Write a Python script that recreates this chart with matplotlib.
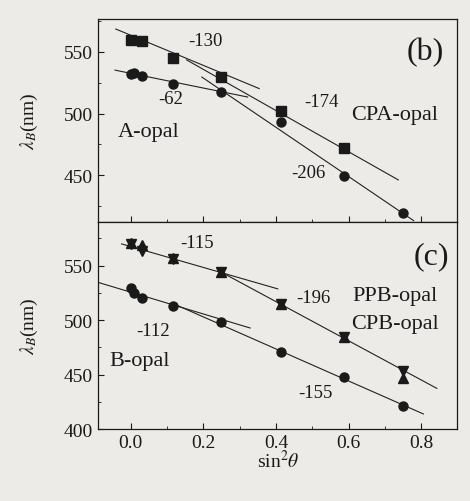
import matplotlib
matplotlib.use('Agg')
import numpy as np
from matplotlib import pyplot as plt
from matplotlib.ticker import MultipleLocator

plt.rcParams['font.family'] = ['Liberation Serif', 'DejaVu Serif']
plt.rcParams['mathtext.fontset'] = 'stix'

# sin^2(theta) values for the measured angles
x_sq = [0.0, 0.03, 0.117, 0.25, 0.413, 0.587]
y_cpa = [559.7, 559.1, 544.9, 529.6, 501.9, 471.8]

x_a = [0.0, 0.008, 0.03, 0.117, 0.25, 0.413, 0.587, 0.75]
y_a = [532.0, 533.0, 530.4, 523.9, 517.7, 493.3, 448.9, 419.1]

x_b = [0.0, 0.008, 0.03, 0.117, 0.25, 0.413, 0.587, 0.75]
y_b = [529.0, 524.5, 520.5, 512.6, 498.0, 470.4, 448.0, 421.4]

x_tri = [0.0, 0.03, 0.117, 0.25, 0.413, 0.587, 0.75]
y_ppb = [570.5, 569.0, 556.5, 544.0, 515.0, 484.0, 446.5]   # up triangles
y_cpb = [570.0, 563.5, 556.0, 544.5, 515.0, 484.5, 453.5]   # down triangles

# fitted lines: (slope, intercept, x start, x end)
fits_b = [(-122.3, 563.5, -0.041, 0.354),
          (-167.0, 569.2, 0.154, 0.737),
          (-59.7, 532.6, -0.043, 0.322),
          (-199.7, 568.7, 0.196, 0.779)]
fits_c = [(-96.0, 567.5, -0.025, 0.405),
          (-179.7, 588.8, 0.2415, 0.843),
          (-100.0, 525.6, -0.091, 0.329),
          (-147.0, 532.3, 0.113, 0.806)]

bg = '#ecebe8'
fig = plt.figure(figsize=(4.7, 5.02), dpi=100, facecolor=bg)
ax1 = fig.add_axes([0.2085, 0.5558, 0.7649, 0.4052], facecolor=bg)
ax2 = fig.add_axes([0.2085, 0.1434, 0.7649, 0.4124], facecolor=bg)

for ax, fits in ((ax1, fits_b), (ax2, fits_c)):
    for k, b, x0, x1 in fits:
        xs = np.array([x0, x1])
        ax.plot(xs, k * xs + b, color='#222222', lw=0.8)

ax1.plot(x_sq, y_cpa, 's', color='#1a1a1a', ms=6.5)
ax1.plot(x_a, y_a, 'o', color='#1a1a1a', ms=6.5)
ax2.plot(x_b, y_b, 'o', color='#1a1a1a', ms=6.5)
ax2.plot(x_tri, y_ppb, '^', color='#1a1a1a', ms=7)
ax2.plot(x_tri, y_cpb, 'v', color='#1a1a1a', ms=7)

txt = dict(ha='center', va='center', color='#1a1a1a')
ax1.text(0.205, 559.1, '-130', fontsize=13.5, **txt)
ax1.text(0.109, 512.1, '-62', fontsize=13.5, **txt)
ax1.text(0.525, 509.7, '-174', fontsize=13.5, **txt)
ax1.text(0.49, 452.4, '-206', fontsize=13.5, **txt)
ax1.text(0.728, 499.4, 'CPA-opal', fontsize=16, **txt)
ax1.text(0.049, 485.0, 'A-opal', fontsize=16, **txt)
ax1.text(0.811, 550.0, '(b)', fontsize=23, **txt)

ax2.text(0.182, 571.4, '-115', fontsize=13.5, **txt)
ax2.text(0.503, 520.9, '-196', fontsize=13.5, **txt)
ax2.text(0.0625, 490.3, '-112', fontsize=13.5, **txt)
ax2.text(0.508, 433.7, '-155', fontsize=13.5, **txt)
ax2.text(0.728, 522.4, 'PPB-opal', fontsize=16, **txt)
ax2.text(0.728, 496.4, 'CPB-opal', fontsize=16, **txt)
ax2.text(0.026, 462.7, 'B-opal', fontsize=16, **txt)
ax2.text(0.828, 559.2, '(c)', fontsize=23, **txt)

ax1.set_ylim(412, 577)
ax2.set_ylim(400, 590)
for ax in (ax1, ax2):
    ax.set_xlim(-0.09, 0.9)
    ax.xaxis.set_major_locator(MultipleLocator(0.2))
    ax.xaxis.set_minor_locator(MultipleLocator(0.1))
    ax.yaxis.set_major_locator(MultipleLocator(50))
    ax.yaxis.set_minor_locator(MultipleLocator(25))
    ax.tick_params(which='both', direction='in', labelsize=14, colors='#1a1a1a')
    ax.tick_params(which='major', length=4)
    ax.tick_params(which='minor', length=2.5)
    ax.set_ylabel(r'$\lambda_B$(nm)', fontsize=14, color='#1a1a1a', labelpad=17)
    for s in ax.spines.values():
        s.set_linewidth(0.9)
        s.set_color('#1a1a1a')
ax1.tick_params(labelbottom=False)
ax2.set_yticks([400, 450, 500, 550])
ax2.set_xlabel(r'sin$^2\theta$', fontsize=14, color='#1a1a1a', labelpad=-1)

fig.savefig('out.png', dpi=100, facecolor=bg)
